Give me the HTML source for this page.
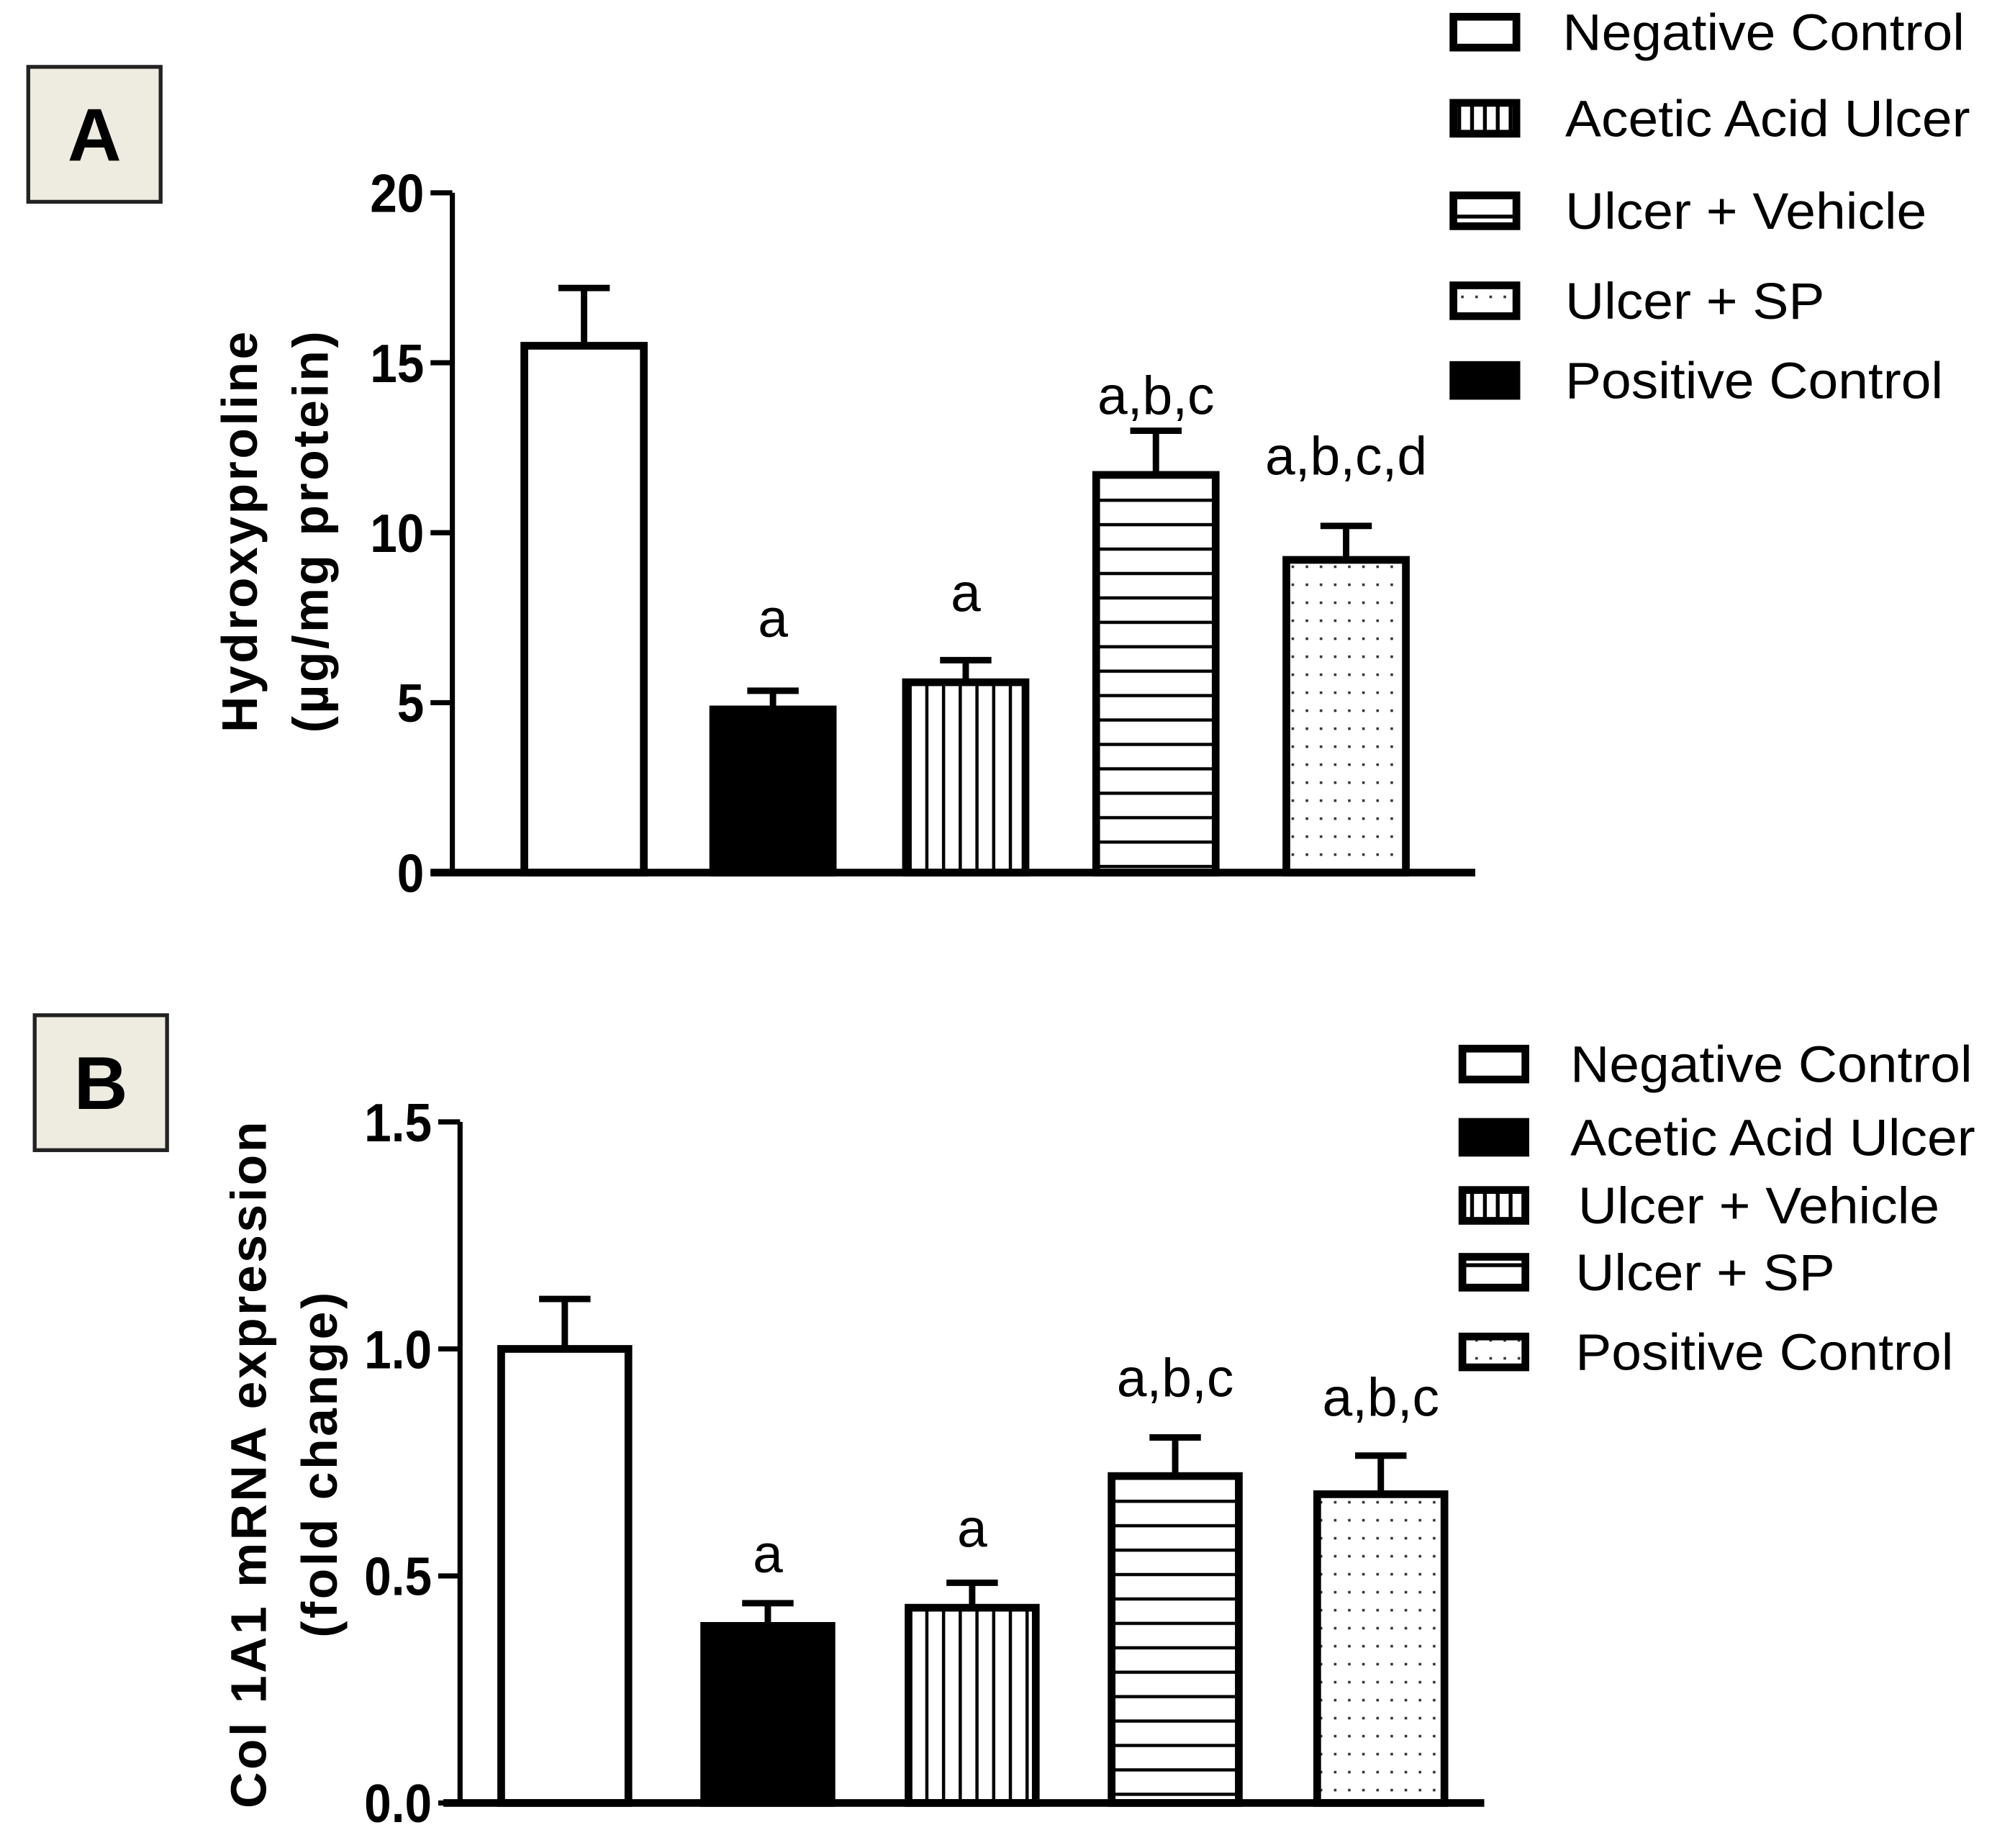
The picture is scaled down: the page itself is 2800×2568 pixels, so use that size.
<!DOCTYPE html>
<html><head><meta charset="utf-8">
<style>
html,body{margin:0;padding:0;background:#fff;}
svg{display:block;}
text{font-family:"Liberation Sans",Arial,sans-serif;}
</style></head>
<body>
<svg id="fig" width="2800" height="2568" viewBox="0 0 1568 1438" xmlns="http://www.w3.org/2000/svg">
<defs>
<pattern id="pv" width="13" height="10" patternUnits="userSpaceOnUse"><rect width="13" height="10" fill="#fff"/><rect x="5" width="2.5" height="10" fill="#000"/></pattern>
<pattern id="ph" width="10" height="19" patternUnits="userSpaceOnUse"><rect width="10" height="19" fill="#fff"/><rect y="8" width="10" height="2.5" fill="#000"/></pattern>
<pattern id="pd" width="11" height="14" patternUnits="userSpaceOnUse"><rect width="11" height="14" fill="#fff"/><rect x="4" y="6" width="2" height="2" fill="#333"/></pattern>
<pattern id="lv" width="10" height="10" patternUnits="userSpaceOnUse"><rect width="10" height="10" fill="#fff"/><rect x="4" width="3" height="10" fill="#000"/></pattern>
<pattern id="lh" width="10" height="16" patternUnits="userSpaceOnUse"><rect width="10" height="16" fill="#fff"/><rect y="7" width="10" height="3" fill="#000"/></pattern>
</defs>
<g id="root"></g>
</svg>
<script>
const NS="http://www.w3.org/2000/svg";
const root=document.getElementById('root');

// Panel A data
const catsA=["Negative Control","Acetic Acid Ulcer","Ulcer + Vehicle","Ulcer + SP","Positive Control"];
const valsA=[15.5,4.8,5.6,11.7,9.2];
const errA=[1.7,0.55,0.65,1.3,1.0];
const sigA=["","a","a","a,b,c","a,b,c,d"];
const ticksA=[0,5,10,15,20];
const tickLabelsA=["0","5","10","15","20"];
const fillsA=["#fff","#000","url(#pv)","url(#ph)","url(#pd)"];
const legendA=["Negative Control","Acetic Acid Ulcer","Ulcer + Vehicle","Ulcer + SP","Positive Control"];
const legendFillsA=["#fff","url(#lv)","url(#lh)","url(#pd)","#000"];

// Panel B data
const catsB=["Negative Control","Acetic Acid Ulcer","Ulcer + Vehicle","Ulcer + SP","Positive Control"];
const valsB=[1.0,0.39,0.43,0.72,0.68];
const errB=[0.11,0.05,0.055,0.085,0.085];
const sigB=["","a","a","a,b,c","a,b,c"];
const ticksB=[0,0.5,1.0,1.5];
const tickLabelsB=["0.0","0.5","1.0","1.5"];
const fillsB=["#fff","#000","url(#pv)","url(#ph)","url(#pd)"];
const legendB=["Negative Control","Acetic Acid Ulcer","Ulcer + Vehicle","Ulcer + SP","Positive Control"];
const legendFillsB=["#fff","#000","url(#lv)","url(#lh)","url(#pd)"];

function mk(tag,attrs,parent,txt){const e=document.createElementNS(NS,tag);for(const k in attrs)e.setAttribute(k,attrs[k]);if(txt!==undefined)e.textContent=txt;(parent||root).appendChild(e);return e;}

function panel(cfg){
  const g=mk('g',{});
  
  
  const y=v=>cfg.y0-(v/cfg.max)*(cfg.y0-cfg.yTop);
  const lb=mk('rect',{x:cfg.box[0],y:cfg.box[1],width:103,height:105,fill:'#eeece0',stroke:'#222','stroke-width':3},g);
  
  
  const lt=mk('text',{x:cfg.box[0]+51.5,y:cfg.box[1]+73,'text-anchor':'middle','font-size':58,'font-weight':'bold'},g,cfg.letter);
  
  
  cfg.vals.forEach((v,i)=>{
    const x0=cfg.barX[i], w=cfg.barW;
    const cx=x0+w/2, top=y(v), et=y(v+cfg.err[i]);
    const el=mk('line',{x1:cx,x2:cx,y1:top,y2:et,stroke:'#000','stroke-width':5},g);
    
    
    const ec=mk('line',{x1:cx-20,x2:cx+20,y1:et,y2:et,stroke:'#000','stroke-width':5},g);
    
    
    const r=mk('rect',{x:x0,y:top,width:w,height:cfg.y0-top,fill:cfg.fills[i],stroke:'#000','stroke-width':6},g);
    
    
    if(cfg.sig[i]){
      const s=mk('text',{x:cx,y:et-cfg.sigOff[i],'text-anchor':'middle','font-size':42},g,cfg.sig[i]);
      
      
    }
  });
  const ya=mk('line',{x1:cfg.axX,x2:cfg.axX,y1:cfg.yTop,y2:cfg.y0+2,stroke:'#000','stroke-width':4},g);
  
  
  const xa=mk('line',{x1:cfg.xStart,x2:cfg.xEnd,y1:cfg.y0,y2:cfg.y0,stroke:'#000','stroke-width':6},g);
  
  
  cfg.ticks.forEach((t,i)=>{
    const ty=y(t);
    const tk=mk('line',{x1:cfg.axX-17,x2:cfg.axX,y1:ty,y2:ty,stroke:'#000','stroke-width':4},g);
    
    
    const ax=cfg.axX-22;
    const tl=mk('text',{x:ax,y:ty+15,'text-anchor':'end','font-size':42,'font-weight':'bold',transform:`translate(${ax},0) scale(0.9,1) translate(${-ax},0)`},g,cfg.tickLabels[i]);
    
    
  });
  cfg.title.forEach((t,i)=>{
    const tx=cfg.titleX[i];
    const tt=mk('text',{x:tx,y:cfg.titleY,'text-anchor':'middle','font-size':39,'font-weight':'bold','letter-spacing':2,transform:`rotate(-90 ${tx} ${cfg.titleY})`},g,t);
    
    
  });
  cfg.legend.forEach((t,i)=>{
    const ly=cfg.legY[i];
    const lr=mk('rect',{x:cfg.legX+3,y:ly-12,width:49,height:24,fill:cfg.legendFills[i],stroke:'#000','stroke-width':6},g);
    
    
    const lx=cfg.legTX[i];
    const ltx=mk('text',{x:lx,y:ly+14,'font-size':40,transform:`translate(${lx},0) scale(1.05,1) translate(${-lx},0)`},g,t);
    
    
  });
}

panel({name:'panel-a',letter:'A',box:[22,52],cats:catsA,vals:valsA,err:errA,sig:sigA,fills:fillsA,
  ticks:ticksA,tickLabels:tickLabelsA,max:20,y0:679,yTop:150,axX:352,xStart:335,xEnd:1148,
  barX:[408,555,705,853,1001],barW:93,sigOff:[0,42,38,13,40],
  title:["Hydroxyproline","(µg/mg protein)"],titleX:[200,255],titleY:413,
  legend:legendA,legendFills:legendFillsA,legX:1128,legY:[25,92,164,234,296],legTX:[1216,1218,1218,1218,1218]});

panel({name:'panel-b',letter:'B',box:[27,790],cats:catsB,vals:valsB,err:errB,sig:sigB,fills:fillsB,
  ticks:ticksB,tickLabels:tickLabelsB,max:1.5,y0:1403,yTop:873,axX:358,xStart:345,xEnd:1155,
  barX:[390,548,707,865,1025],barW:99,sigOff:[0,24,28,32,31],
  title:["Col 1A1 mRNA expression","(fold change)"],titleX:[207,262],titleY:1139,
  legend:legendB,legendFills:legendFillsB,legX:1135,legY:[828,885,938,990,1052],legTX:[1222,1222,1228,1226,1226]});
</script>
</body></html>
